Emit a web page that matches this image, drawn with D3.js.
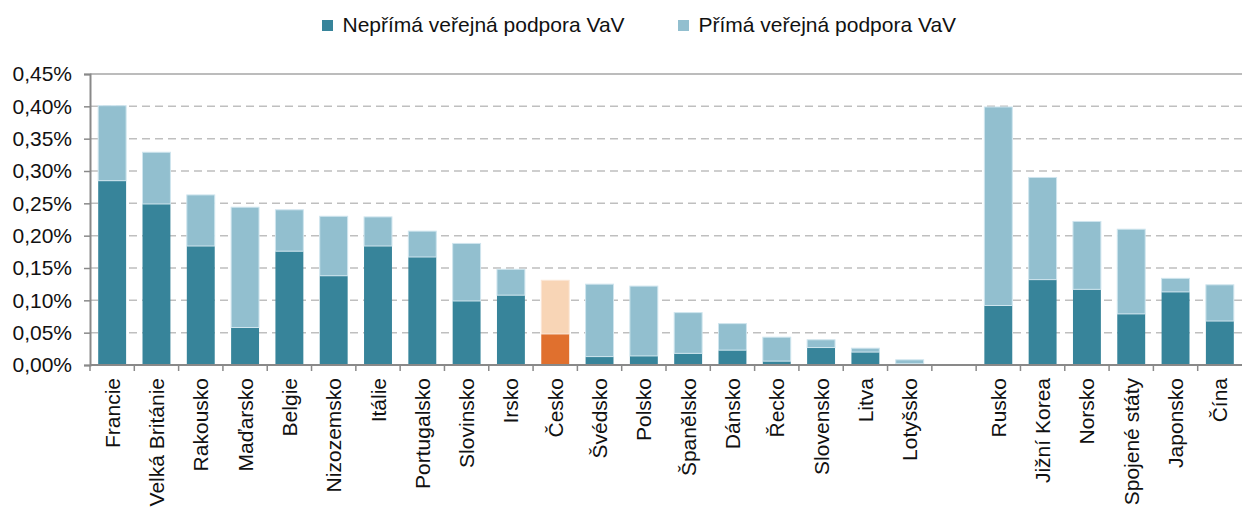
<!DOCTYPE html>
<html>
<head>
<meta charset="utf-8">
<script src="https://cdn.jsdelivr.net/npm/d3@7/dist/d3.min.js"></script>
<style type="text/css">
  body{
    margin: 0;
    background: white;
  }
  svg text{
    font-family: 'Liberation Sans', Arial, sans-serif;
    fill: #111;
  }
</style>
</head>
<body>
<svg id="chart" width="1242" height="507"></svg>
<script>

// countries, "" = empty slot between the two groups
var countries = ['Francie','Velká Británie','Rakousko','Maďarsko','Belgie','Nizozemsko','Itálie',
  'Portugalsko','Slovinsko','Irsko','Česko','Švédsko','Polsko','Španělsko','Dánsko','Řecko',
  'Slovensko','Litva','Lotyšsko','','Rusko','Jižní Korea','Norsko','Spojené státy','Japonsko','Čína'];

// nepřímá podpora (% HDP)
var indirect = [0.285,0.249,0.184,0.058,0.176,0.138,0.184,0.167,0.099,0.108,0.048,0.013,0.014,
  0.018,0.023,0.006,0.027,0.020,0.002,null,0.092,0.132,0.117,0.079,0.113,0.068];

// přímá podpora (% HDP)
var direct = [0.116,0.080,0.079,0.186,0.064,0.092,0.045,0.040,0.089,0.040,0.083,0.112,0.108,
  0.063,0.041,0.037,0.012,0.006,0.006,null,0.307,0.158,0.105,0.131,0.021,0.056];

var yTicks = [0,0.05,0.10,0.15,0.20,0.25,0.30,0.35,0.40,0.45];

var seriesNames = ['Nepřímá veřejná podpora VaV','Přímá veřejná podpora VaV'];

var colDark = '#37849a', colLight = '#92bfcf';
var czDark = '#e0702e', czLight = '#f8d5b6';

var width = 1242, height = 507;
var margin = {left: 90, right: 0, top: 74, bottom: 142};

var svg = d3.select('#chart');

var x = d3.scaleBand()
  .domain(d3.range(countries.length))
  .range([margin.left, width - margin.right])
  .paddingInner(0.37)
  .paddingOuter(0.185);

var y = d3.scaleLinear()
  .domain([0, 0.45])
  .range([height - margin.bottom, margin.top]);

// values are already in %, just comma decimals
var locale = d3.formatLocale({decimal: ',', thousands: ' ', grouping: [3], currency: ['', ' Kč']});
var fmt0 = locale.format('.2f');
var fmt = function(d) { return fmt0(d) + '%'; };

// gridlines
svg.append('g')
  .selectAll('line')
  .data(yTicks.filter(function(d) { return d > 0 && d < 0.45; }))
  .enter().append('line')
  .attr('x1', margin.left)
  .attr('x2', width)
  .attr('y1', function(d) { return y(d); })
  .attr('y2', function(d) { return y(d); })
  .attr('stroke', '#bfbfbf')
  .attr('stroke-width', 1.5)
  .attr('stroke-dasharray', '8,5');

// top border
svg.append('line')
  .attr('x1', margin.left).attr('x2', width)
  .attr('y1', y(0.45)).attr('y2', y(0.45))
  .attr('stroke', '#a6a6a6').attr('stroke-width', 1.5);

// bars
var rows = countries.map(function(c, i) {
  return {name: c, i: i, ind: indirect[i], dir: direct[i]};
}).filter(function(d) { return d.name !== ''; });

var bars = svg.append('g');

bars.selectAll('.ind')
  .data(rows)
  .enter().append('rect')
  .attr('class', 'ind')
  .attr('x', function(d) { return x(d.i); })
  .attr('width', x.bandwidth())
  .attr('y', function(d) { return y(d.ind); })
  .attr('height', function(d) { return y(0) - y(d.ind); })
  .attr('fill', function(d) { return d.name === 'Česko' ? czDark : colDark; });

bars.selectAll('.dir')
  .data(rows)
  .enter().append('rect')
  .attr('class', 'dir')
  .attr('x', function(d) { return x(d.i); })
  .attr('width', x.bandwidth())
  .attr('y', function(d) { return y(d.ind + d.dir); })
  .attr('height', function(d) { return y(d.ind) - y(d.ind + d.dir); })
  .attr('fill', function(d) { return d.name === 'Česko' ? czLight : colLight; })
  .attr('stroke', function(d) { return d.name === 'Česko' ? '#fbe6d6' : '#cfe5ee'; })
  .attr('stroke-width', 1);

// y axis
var yAxis = d3.axisLeft(y)
  .tickValues(yTicks)
  .tickFormat(fmt)
  .tickSize(6)
  .tickPadding(12);

var gy = svg.append('g')
  .attr('transform', 'translate(' + margin.left + ',0)')
  .call(yAxis);

gy.select('.domain').attr('stroke', '#898989').attr('stroke-width', 2);
gy.selectAll('.tick line').attr('stroke', '#898989').attr('stroke-width', 1.5);
gy.selectAll('.tick text')
  .style('font-size', '21px')
  .attr('fill', '#111');

// x axis line + ticks at slot boundaries
var step = x.step();

svg.append('line')
  .attr('x1', margin.left).attr('x2', width)
  .attr('y1', y(0)).attr('y2', y(0))
  .attr('stroke', '#898989').attr('stroke-width', 2);

svg.append('g')
  .selectAll('line')
  .data(d3.range(countries.length))
  .enter().append('line')
  .attr('x1', function(i) { return margin.left + i * step; })
  .attr('x2', function(i) { return margin.left + i * step; })
  .attr('y1', y(0))
  .attr('y2', y(0) + 6)
  .attr('stroke', '#898989')
  .attr('stroke-width', 1.5);

// category labels
svg.append('g')
  .selectAll('text')
  .data(rows)
  .enter().append('text')
  .attr('transform', function(d) {
    return 'translate(' + (x(d.i) + x.bandwidth() / 2 + 7.5) + ',' + (y(0) + 13) + ') rotate(-90)';
  })
  .attr('text-anchor', 'end')
  .style('font-size', '21px')
  .text(function(d) { return d.name; });

// legend
var legend = svg.append('g');
var legendX = [322, 678];
var legendCols = [colDark, colLight];

seriesNames.forEach(function(s, i) {
  legend.append('rect')
    .attr('x', legendX[i])
    .attr('y', 20)
    .attr('width', 11)
    .attr('height', 11)
    .attr('fill', legendCols[i]);
  legend.append('text')
    .attr('x', legendX[i] + 20.5)
    .attr('y', 32)
    .style('font-size', '21px')
    .text(s);
});

</script>
</body>
</html>
